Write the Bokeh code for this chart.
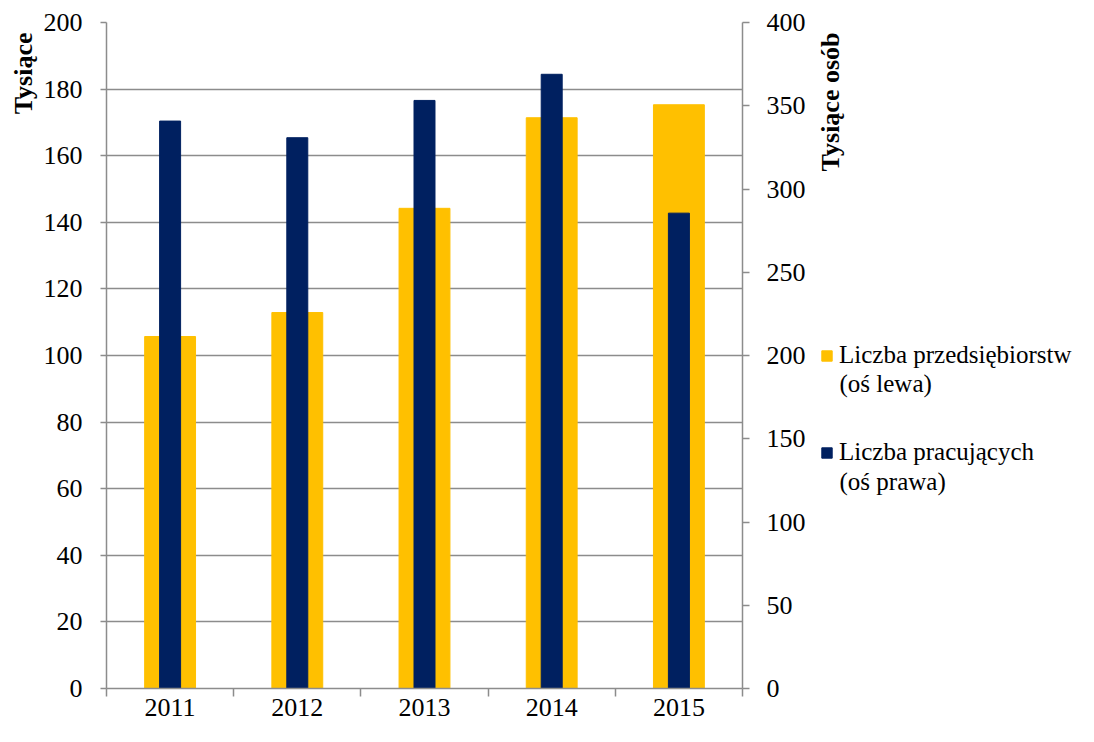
import math
from bokeh.plotting import figure
from bokeh.layouts import row
from bokeh.models import (Range1d, LinearAxis, FixedTicker, Legend, LegendItem, Label, Title)
from bokeh.embed import file_html
from bokeh.resources import INLINE

# ---- data ----
years = ["2011", "2012", "2013", "2014", "2015"]
firms = [105.7, 112.9, 144.2, 171.4, 175.3]          # left axis, thousands
workers = [340.8, 330.8, 353.2, 368.9, 285.5]        # right axis, thousands of persons
left_ticks = list(range(0, 201, 20))
right_ticks = list(range(0, 401, 50))
label_firms = ["Liczba przedsiębiorstw", "(oś lewa)"]
label_workers = ["Liczba pracujących", "(oś prawa)"]
title_left = "Tysiące"
title_right = "Tysiące osób"

YELLOW = "#FFC000"
NAVY = "#002060"
GRAY = "#8c8c8c"
FONT = "Liberation Serif"
FS = "26px"
LFS = "25px"
H = 726
W_MAIN = 812
W_SIDE = 1078 - W_MAIN

centers = [i + 0.5 for i in range(len(years))]
bounds = list(range(len(years) + 1))

yr = Range1d(0, 200)
p = figure(width=W_MAIN, height=H, output_backend="svg", toolbar_location=None, title=None,
           x_range=Range1d(0, len(years)), y_range=yr,
           min_border_left=106, min_border_right=70, min_border_top=22, min_border_bottom=38)
p.outline_line_color = None
p.extra_y_ranges = {"right": Range1d(0, 400)}

# bars
r1 = p.vbar(x=centers, top=firms, width=0.4, fill_color=YELLOW, line_color=YELLOW)
r2 = p.vbar(x=centers, top=workers, width=0.165, fill_color=NAVY, line_color=NAVY,
            y_range_name="right")

# x axis
xa = p.xaxis[0]
xa.ticker = FixedTicker(ticks=centers, minor_ticks=bounds)
xa.major_label_overrides = {c: y for c, y in zip(centers, years)}
xa.major_tick_line_color = None
xa.major_tick_out = 8
xa.major_tick_in = 0
xa.minor_tick_out = 8
xa.minor_tick_in = 0
xa.minor_tick_line_color = GRAY
xa.minor_tick_line_width = 1.5
xa.major_label_standoff = 2
p.xgrid.visible = False

# left axis
ya = p.yaxis[0]
ya.ticker = FixedTicker(ticks=left_ticks)
ya.minor_tick_line_color = None
ya.major_tick_out = 6
ya.major_tick_in = 0
ya.major_label_standoff = 18
p.ygrid.ticker = FixedTicker(ticks=left_ticks)
p.ygrid.grid_line_color = GRAY
p.ygrid.grid_line_width = 1.5

# right axis
ra = LinearAxis(y_range_name="right", ticker=FixedTicker(ticks=right_ticks))
ra.minor_tick_line_color = None
ra.major_tick_out = 7
ra.major_tick_in = 0
ra.major_label_standoff = 17
p.add_layout(ra, "right")

for ax in (xa, ya, ra):
    ax.axis_line_color = GRAY
    ax.axis_line_width = 1.5
    ax.major_tick_line_width = 1.5
    if ax is not xa:
        ax.major_tick_line_color = GRAY
    ax.major_label_text_font = FONT
    ax.major_label_text_font_size = FS
    ax.major_label_text_color = "black"

# left axis title (top-aligned)
p.add_layout(Title(text=title_left, align="right", text_font=FONT, text_font_size=FS,
                   text_font_style="bold", text_color="black", offset=10, standoff=6), "left")

# side panel: right axis title + legend (legend proxies use the same data, kept out of view)
q = figure(width=W_SIDE, height=H, output_backend="svg", toolbar_location=None, title=None,
           x_range=Range1d(-3, -2), y_range=yr, x_axis_type=None, y_axis_type=None,
           min_border=0)
q.outline_line_color = None
q.grid.visible = False
k1 = q.vbar(x=centers, top=firms, width=0.4, fill_color=YELLOW, line_color=YELLOW)
k2 = q.vbar(x=centers, top=workers, width=0.165, fill_color=NAVY, line_color=NAVY)

q.add_layout(Label(x=18, y=197, x_units="screen", y_units="data", text=title_right,
                   angle=math.pi / 2, text_align="right", text_baseline="middle",
                   text_font=FONT, text_font_size=FS, text_font_style="bold",
                   text_color="black"))

legend = Legend(items=[LegendItem(label=label_firms[0], renderers=[k1]),
                       LegendItem(label=label_workers[0], renderers=[k2])],
                location=(8, 221), padding=0, margin=0, spacing=67,
                glyph_width=13, glyph_height=13, label_standoff=6, label_height=30,
                label_text_font=FONT, label_text_font_size=LFS,
                label_text_color="black",
                border_line_color=None, background_fill_alpha=0)
q.add_layout(legend)

# second lines of the legend labels
for txt, ys in ((label_firms[1], 305), (label_workers[1], 207)):
    q.add_layout(Label(x=27, y=ys, x_units="screen", y_units="screen", text=txt,
                       text_align="left", text_baseline="middle",
                       text_font=FONT, text_font_size=LFS, text_color="black"))

open("out.html", "w").write(file_html(row(p, q), INLINE))
